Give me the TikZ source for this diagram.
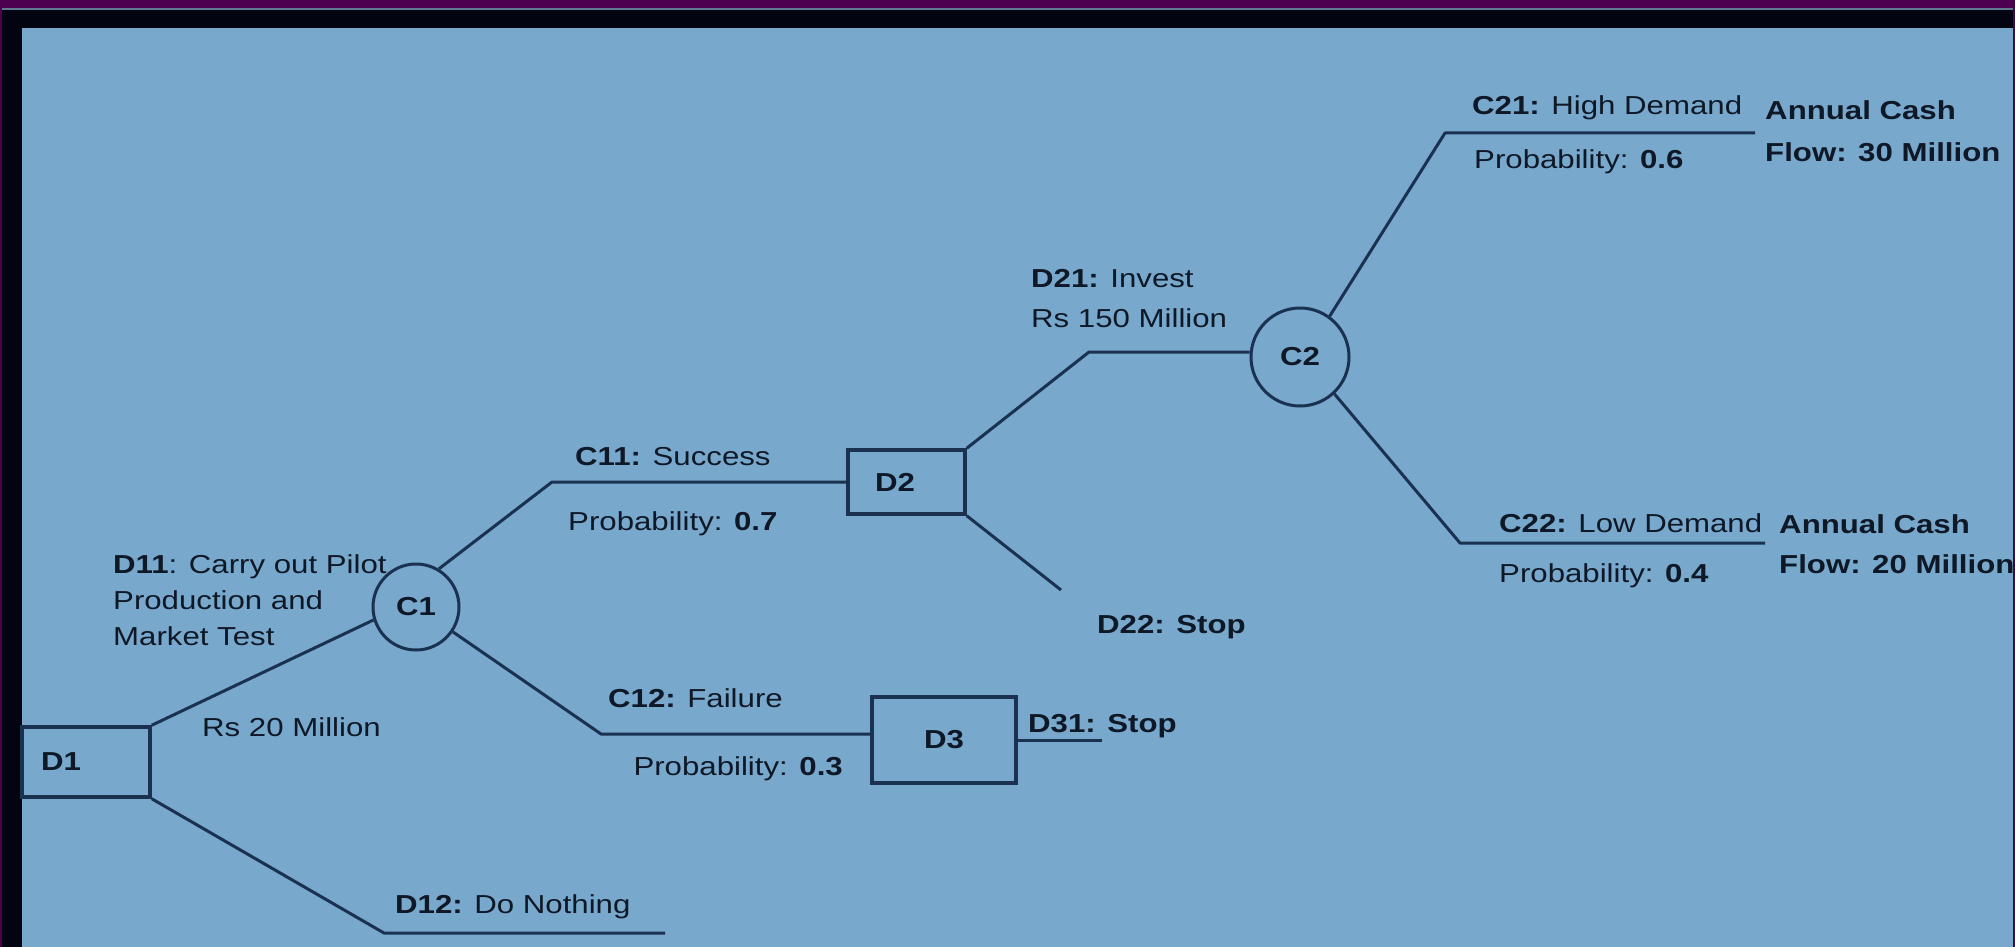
\documentclass[tikz,border=0pt]{standalone}
\usepackage{fontspec}
\setmainfont[FakeStretch=1.2]{Liberation Sans}
\definecolor{bgpurple}{HTML}{4D004F}
\definecolor{bandblack}{HTML}{02050F}
\definecolor{bandedge}{HTML}{5F7A90}
\definecolor{panelblue}{HTML}{78A8CC}
\definecolor{inkline}{HTML}{1A3150}
\definecolor{inktext}{HTML}{0E1826}
\tikzset{
  lbl/.style={anchor=base west, inner sep=0pt, text=inktext, font=\fontsize{26}{31}\selectfont},
  lblr/.style={lbl, anchor=base east},
  conn/.style={draw=inkline, line width=3pt, line join=round},
  dbox/.style={draw=inkline, line width=3.5pt, rectangle, inner sep=0pt, text=inktext,
    font=\fontsize{26}{31}\selectfont\bfseries},
  cnode/.style={draw=inkline, line width=3pt, circle, inner sep=0pt, text=inktext,
    font=\fontsize{26}{31}\selectfont\bfseries}
}
\begin{document}
\begin{tikzpicture}[x=1pt, y=-1pt]
\useasboundingbox (0,0) rectangle (2015,947);
% frame
\fill[bgpurple] (0,0) rectangle (2015,947);
\fill[bandblack] (2,8) rectangle (2013,947);
\fill[bandedge] (2,8) rectangle (2013,10.5);
\fill[panelblue] (22,28) rectangle (2013,948);

% decision and chance nodes
\node[dbox, minimum width=128, minimum height=70, inner xsep=19pt, text width=90pt, align=left] (D1) at (86,762) {D1};
\node[cnode, minimum size=86] (C1) at (416,607) {C1};
\node[dbox, minimum width=117, minimum height=64, inner xsep=27pt, text width=63pt, align=left] (D2) at (906.5,482) {D2};
\node[dbox, minimum width=144, minimum height=86] (D3) at (944,740) {D3};
\node[cnode, minimum size=98] (C2) at (1300,357) {C2};

% bend points and free ends
\coordinate (k11) at (552,482);
\coordinate (k12) at (601,734);
\coordinate (k13) at (384,933);
\coordinate (e12) at (665,933);
\coordinate (k21) at (1089,352);
\coordinate (e22) at (1061,590);
\coordinate (e31) at (1102,742);
\coordinate (k221) at (1445,133);
\coordinate (e221) at (1755,133);
\coordinate (k222) at (1460,543);
\coordinate (e222) at (1765,543);

% connectors
\draw[conn] (D1.north east) -- (C1.197);
\draw[conn] (C1.59) -- (k11) -- (k11 -| D2.west);
\draw[conn] (C1.-34) -- (k12) -- (k12 -| D3.west);
\draw[conn] (D1.south east) -- (k13) -- (e12);
\draw[conn] (D2.north east) -- (k21) -- (k21 -| C2.west);
\draw[conn] (D2.south east) -- (e22);
\draw[conn] (D3.east) -- (D3.east -| e31);
\draw[conn] (C2.54) -- (k221) -- (e221);
\draw[conn] (C2.-47) -- (k222) -- (e222);

% labels
\node[lbl] (tD11) at (113,573) {\vtop{\baselineskip=36pt\hbox{\textbf{D11}: Carry out Pilot}\hbox{Production and}\hbox{Market Test}}};
\node[lbl] (tRs20) at (202,736) {Rs 20 Million};
\node[lbl] (tC11) at (575,465) {\textbf{C11:} Success};
\node[lbl] (tP07) at (568,530) {Probability: \textbf{0.7}};
\node[lbl] (tC12) at (608,707) {\textbf{C12:} Failure};
\node[lblr] (tP03) at (843,775) {Probability: \textbf{0.3}};
\node[lbl] (tD12) at (395,913) {\textbf{D12:} Do Nothing};
\node[lbl] (tD21) at (1031,287) {\vtop{\baselineskip=40pt\hbox{\textbf{D21:} Invest}\hbox{Rs 150 Million}}};
\node[lbl] (tD22) at (1097,633) {\textbf{D22: Stop}};
\node[lbl] (tD31) at (1028,732) {\textbf{D31: Stop}};
\node[lbl] (tC21) at (1472,115) {\textbf{C21:} High Demand};
\node[lbl] (tP06) at (1474,168) {Probability: \textbf{0.6}};
\node[lbl] (tAC30) at (1765,120) {\vtop{\baselineskip=42pt\hbox{\textbf{Annual Cash}}\hbox{\textbf{Flow: 30 Million}}}};
\node[lbl] (tC22) at (1499,532) {\textbf{C22:} Low Demand};
\node[lbl] (tP04) at (1499,582) {Probability: \textbf{0.4}};
\node[lbl] (tAC20) at (1779,533) {\vtop{\baselineskip=40pt\hbox{\textbf{Annual Cash}}\hbox{\textbf{Flow: 20 Million}}}};

% right frame strip stays on top of the clipped text
\fill[bgpurple] (2013,0) rectangle (2015,947);
\end{tikzpicture}
\end{document}
